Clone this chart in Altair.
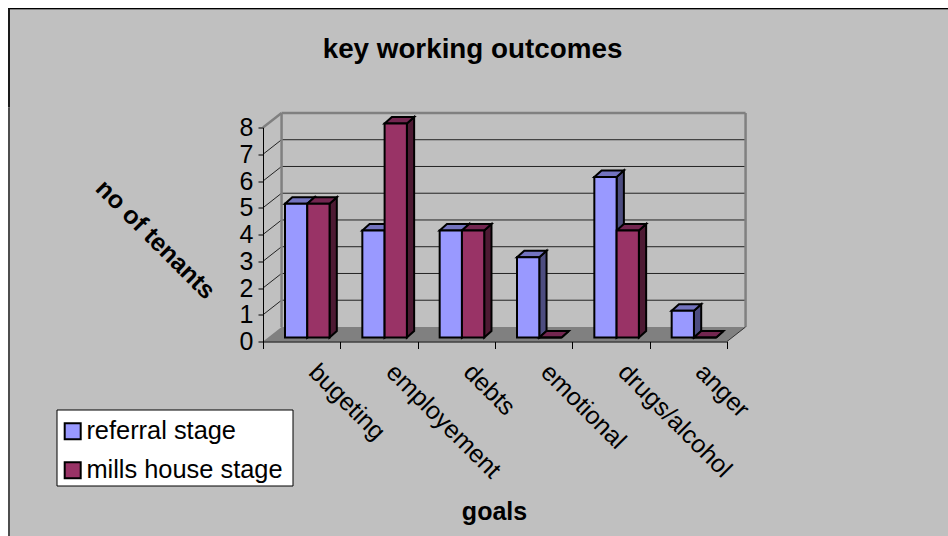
import altair as alt
import pandas as pd

categories = ["bugeting", "employement", "debts", "emotional", "drugs/alcohol", "anger"]
series_names = ["referral stage", "mills house stage"]
referral = [5, 4, 4, 3, 6, 1]
mills = [5, 8, 4, 0, 4, 0]

FONT = "Liberation Sans"
TEXT_SIZE = 25
front_colors = ["#9999FF", "#993366"]
side_colors = ["#4D4D80", "#4D1A33"]
top_colors = ["#7373BF", "#732650"]

# oblique projection of the depth axis, in axis units
WALL_DX, WALL_DY = 0.24, 0.543
BAR_DX, BAR_DY = 0.094, 0.243
BAR_START, BAR_W, LIFT = 0.2845, 0.288, 0.15

sx = alt.Scale(domain=[0, 6], nice=False, zero=False)
sy = alt.Scale(domain=[0, 8], nice=False, zero=False)

# real axes: ticks at slot edges, category names at slot centres
name_expr = "[" + ",".join(f"'{c}'" for c in categories) + "][floor(datum.value)]"
x_axis = alt.Axis(
    values=[i / 2 for i in range(13)],
    labelExpr=f"datum.value % 1 ? {name_expr} : ''",
    labelAngle=45, labelAlign="left", labelBaseline="middle", labelOverlap=False,
    labelFlush=False, labelFont=FONT, labelFontSize=TEXT_SIZE, labelColor="#000000",
    labelPadding=19, labelOffset=11, tickSize=7, tickColor="#000000", domainColor="#000000",
    tickOpacity={"condition": {"test": "datum.value % 1 == 0", "value": 1}, "value": 0},
    title="goals", titleFont=FONT, titleFontSize=TEXT_SIZE, titleFontWeight="bold",
    titleColor="#000000", titleX=231, titleY=169.5, titleAlign="center", titleBaseline="middle",
    grid=False, zindex=1,
)
y_axis = alt.Axis(
    values=list(range(9)), format="d",
    labelFont=FONT, labelFontSize=TEXT_SIZE, labelColor="#000000", labelPadding=5,
    tickSize=5, tickColor="#000000", domainColor="#000000",
    title="no of tenants", titleFont=FONT, titleFontSize=TEXT_SIZE, titleFontWeight="bold",
    titleColor="#000000", titleAngle=45, titleX=-108, titleY=111.5,
    titleAlign="center", titleBaseline="middle",
    grid=False, zindex=1,
)
X = alt.X("x:Q", scale=sx, axis=x_axis, title="goals")
Y = alt.Y("y:Q", scale=sy, axis=y_axis, title="no of tenants")

# one row per face point
fronts, sides, tops = [], [], []
for s, (name, values) in enumerate(zip(series_names, [referral, mills])):
    for i, (cat, v) in enumerate(zip(categories, values)):
        x0 = i + BAR_START + s * BAR_W
        x1 = x0 + BAR_W
        bar = f"{s}-{i}"
        fronts.append(dict(x=x0, x2=x1, y=v + LIFT, y2=LIFT, series=name))
        sides.append(dict(bar=bar, s=s, x=x1, y=v + LIFT, y2=LIFT))
        sides.append(dict(bar=bar, s=s, x=x1 + BAR_DX, y=v + LIFT + BAR_DY, y2=LIFT + BAR_DY))
        tops.append(dict(bar=bar, s=s, x=x0, x2=x1, y=v + LIFT))
        tops.append(dict(bar=bar, s=s, x=x0 + BAR_DX, x2=x1 + BAR_DX, y=v + LIFT + BAR_DY))
fronts = pd.DataFrame(fronts)
sides = pd.DataFrame(sides)
tops = pd.DataFrame(tops)

one = pd.DataFrame({"a": [0]})

# chart area fill and its frame
panel = alt.Chart(one).mark_rect(color="#C0C0C0").encode(
    x=alt.value(-254), x2=alt.value(685), y=alt.value(-118), y2=alt.value(409)
)
frame_top = alt.Chart(one).mark_rule(color="#000000", strokeWidth=1).encode(
    x=alt.value(-255), x2=alt.value(685), y=alt.value(-119), y2=alt.value(-119)
)
frame_top2 = alt.Chart(one).mark_rule(color="#808080", strokeWidth=1).encode(
    x=alt.value(-254), x2=alt.value(685), y=alt.value(-118), y2=alt.value(-118)
)
frame_left = alt.Chart(one).mark_rule(color="#1A1A1A", strokeWidth=2).encode(
    x=alt.value(-254), x2=alt.value(-254), y=alt.value(-119), y2=alt.value(-20)
)
frame_left2 = alt.Chart(one).mark_rule(color="#4D4D4D", strokeWidth=2).encode(
    x=alt.value(-254), x2=alt.value(-254), y=alt.value(-20), y2=alt.value(409)
)

# chart heading
heading = alt.Chart(one).mark_text(
    text="key working outcomes", font=FONT, fontSize=27.8, fontWeight="bold",
    color="#000000", align="center", baseline="middle",
).encode(x=alt.value(209.5), y=alt.value(-77.5))

# white box behind the legend entries
legend_box = alt.Chart(one).mark_rect(fill="#FFFFFF", stroke="#000000", strokeWidth=1).encode(
    x=alt.value(-206), x2=alt.value(30), y=alt.value(282.5), y2=alt.value(358.5)
)

# floor of the 3-D box
floor_df = pd.DataFrame([
    dict(x=0, x2=6, y=0),
    dict(x=WALL_DX, x2=6 + WALL_DX, y=WALL_DY),
])
floor = alt.Chart(floor_df).mark_area(orient="horizontal", color="#808080").encode(
    x=X, x2=alt.X2("x2:Q"), y=Y
)

# gridlines on the back wall, running into the left wall
levels = list(range(1, 8))
wall_df = pd.DataFrame({"y": [k + WALL_DY for k in levels], "x": WALL_DX, "x2": 6 + WALL_DX})
wall_grid = alt.Chart(wall_df).mark_rule(color="#222222", strokeWidth=1).encode(
    x=X, x2=alt.X2("x2:Q"), y=Y
)
diag_df = pd.DataFrame({"y": levels, "y2": [k + WALL_DY for k in levels], "x": 0.0, "x2": WALL_DX})
side_grid = alt.Chart(diag_df).mark_rule(color="#222222", strokeWidth=1).encode(
    x=X, x2=alt.X2("x2:Q"), y=Y, y2=alt.Y2("y2:Q")
)
edge_df = pd.DataFrame([
    dict(x=WALL_DX, x2=WALL_DX, y=WALL_DY, y2=8 + WALL_DY),
    dict(x=6 + WALL_DX, x2=6 + WALL_DX, y=WALL_DY, y2=8 + WALL_DY),
    dict(x=WALL_DX, x2=6 + WALL_DX, y=8 + WALL_DY, y2=8 + WALL_DY),
    dict(x=0.0, x2=WALL_DX, y=8.0, y2=8 + WALL_DY),
])
edges = alt.Chart(edge_df).mark_rule(color="#808080", strokeWidth=2.5).encode(
    x=X, x2=alt.X2("x2:Q"), y=Y, y2=alt.Y2("y2:Q")
)
corner_df = pd.DataFrame([dict(x=6.0, x2=6 + WALL_DX, y=0.0, y2=WALL_DY)])
corner = alt.Chart(corner_df).mark_rule(color="#333333", strokeWidth=1).encode(
    x=X, x2=alt.X2("x2:Q"), y=Y, y2=alt.Y2("y2:Q")
)

# side and top faces, back to front, one series at a time
faces = []
for s in range(2):
    faces.append(
        alt.Chart(sides[sides.s == s]).mark_area(
            color=side_colors[s], stroke="#000000", strokeWidth=2
        ).encode(x=X, y=Y, y2=alt.Y2("y2:Q"), detail="bar:N")
    )
    faces.append(
        alt.Chart(tops[tops.s == s]).mark_area(
            orient="horizontal", color=top_colors[s], stroke="#000000", strokeWidth=2
        ).encode(x=X, x2=alt.X2("x2:Q"), y=Y, detail="bar:N")
    )

front = alt.Chart(fronts).mark_rect(stroke="#000000", strokeWidth=2).encode(
    x=X, x2=alt.X2("x2:Q"), y=Y, y2=alt.Y2("y2:Q"),
    fill=alt.Fill(
        "series:N",
        scale=alt.Scale(domain=series_names, range=front_colors),
        legend=alt.Legend(
            title=None, orient="none", legendX=-206, legendY=281,
            padding=10, symbolType="square", symbolSize=256, symbolStrokeColor="#000000",
            symbolStrokeWidth=2, symbolOpacity=1, symbolOffset={"expr": "-7"},
            labelFont=FONT, labelFontSize=25.4, labelColor="#000000",
            labelOffset=1, rowPadding=12, labelLimit=300,
        ),
    ),
)

chart = alt.layer(
    panel, frame_top, frame_top2, frame_left, frame_left2, heading, legend_box,
    floor, wall_grid, side_grid, edges, corner, *faces, front,
).properties(
    width=464,
    height=214,
    padding={"left": 263, "top": 127.5, "right": 221, "bottom": 194.5},
    autosize=alt.AutoSizeParams(type="none"),
    background="#FFFFFF",
).configure_view(stroke=None)

chart.save("out.html", embed_options={"renderer": "svg", "actions": False})
